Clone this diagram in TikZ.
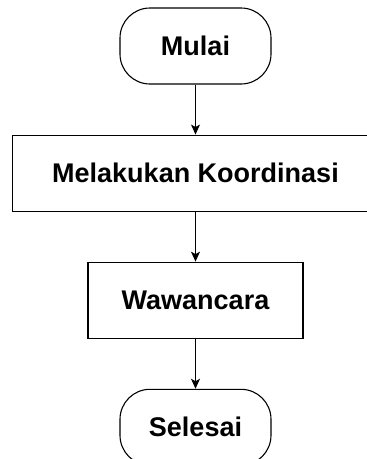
\documentclass[tikz,border=0pt]{standalone}
\usepackage{fontspec}
\setmainfont{Liberation Sans}
\usetikzlibrary{positioning}
\usetikzlibrary{arrows.meta}

\tikzset{
  box/.style={draw, line width=1.1pt, minimum height=76pt, inner sep=0pt,
              font=\bfseries\fontsize{27}{32}\selectfont},
  terminal/.style={box, rounded corners=30pt, minimum width=151pt},
  process/.style={box},
  flow/.style={line width=1.1pt, -{Stealth[length=10pt, width=9pt, inset=2.5pt]}}
}

\begin{document}
\begin{tikzpicture}
  \path [use as bounding box, clip] (0,0) rectangle (367pt,-459pt);

  \node [terminal] (mulai) at (195.5pt,-46pt) {Mulai};
  \node [process, minimum width=366pt, below=50pt of mulai] (koordinasi) {Melakukan Koordinasi};
  \node [process, minimum width=215pt, below=50pt of koordinasi] (wawancara) {Wawancara};
  \node [terminal, below=50pt of wawancara] (selesai) {Selesai};

  \foreach \a/\b in {mulai/koordinasi, koordinasi/wawancara, wawancara/selesai}
    \draw [flow] (\a) -- (\b);

\end{tikzpicture}
\end{document}
